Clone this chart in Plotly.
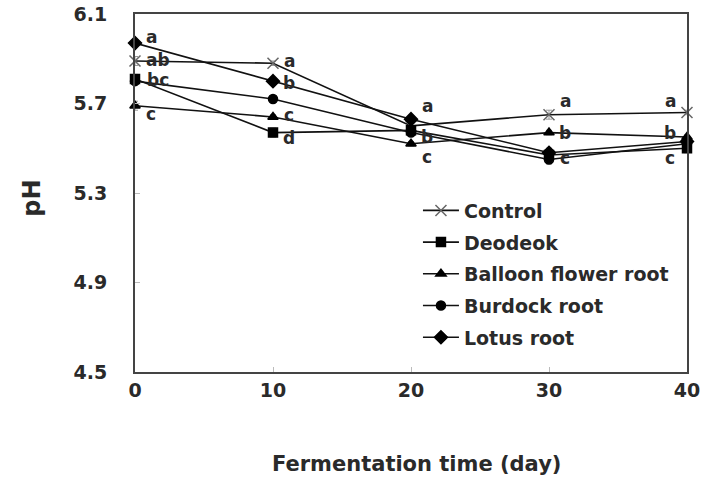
import plotly.graph_objects as go

days = [0, 10, 20, 30, 40]
series_names = ["Control", "Deodeok", "Balloon flower root", "Burdock root", "Lotus root"]
control = [5.89, 5.88, 5.60, 5.65, 5.66]
deodeok = [5.81, 5.57, 5.58, 5.47, 5.50]
balloon = [5.69, 5.64, 5.52, 5.57, 5.55]
burdock = [5.80, 5.72, 5.57, 5.45, 5.52]
lotus = [5.97, 5.80, 5.63, 5.48, 5.53]
control_err = [0.02, 0.01, 0.01, 0.02, 0.01]
deodeok_err = [0.02, 0.02, 0.01, 0.03, 0.02]
balloon_err = [0.02, 0.01, 0.01, 0.01, 0.01]
burdock_err = [0.01, 0.01, 0.01, 0.02, 0.01]
lotus_err = [0.01, 0.01, 0.01, 0.01, 0.01]

# significance letters: (day, pH position, letter, pixel shift)
letters = [
    (0, 5.995, "a", 16), (0, 5.893, "ab", 23), (0, 5.805, "bc", 23), (0, 5.655, "c", 16),
    (10, 5.89, "a", 16), (10, 5.79, "b", 16), (10, 5.65, "c", 16), (10, 5.545, "d", 16),
    (20, 5.69, "a", 16), (20, 5.55, "b", 16), (20, 5.46, "c", 16),
    (30, 5.71, "a", 16), (30, 5.57, "b", 16), (30, 5.456, "c", 16),
    (40, 5.71, "a", -17), (40, 5.57, "b", -17), (40, 5.456, "c", -17),
]

values = [control, deodeok, balloon, burdock, lotus]
errors = [control_err, deodeok_err, balloon_err, burdock_err, lotus_err]
symbols = ["x-thin-open", "square", "triangle-up", "circle", "diamond"]
sizes = [11, 9, 9, 9, 10]
mcolors = ["#666666", "black", "black", "black", "black"]

FONT = "DejaVu Sans"
TXT = "#2a2a2a"

fig = go.Figure()
for i, (name, vals, err) in enumerate(zip(series_names, values, errors)):
    fig.add_trace(go.Scatter(
        x=days, y=vals, name=name, mode="lines+markers",
        line=dict(color="#111111", width=1.6),
        marker=dict(symbol=symbols[i], size=sizes[i], color=mcolors[i],
                    line=dict(color=mcolors[i], width=1.5)),
        error_y=dict(type="data", array=err, visible=True, color="#999999",
                     thickness=1, width=3),
        cliponaxis=False, legendgroup=f"g{i}",
    ))

for d, yv, t, sh in letters:
    fig.add_annotation(x=d, y=yv, text=t, showarrow=False, xshift=sh,
                       font=dict(family=FONT, size=17, color=TXT, weight="bold"))

fig.add_annotation(xref="paper", yref="paper", x=-0.187, y=0.486, text="pH", textangle=-90,
                   xanchor="center", yanchor="middle",
                   showarrow=False, font=dict(family=FONT, size=24, color=TXT, weight="bold"))
fig.add_annotation(xref="paper", yref="paper", x=0.51, y=-0.258, yanchor="middle", xanchor="center",
                   text="Fermentation time (day)", showarrow=False,
                   font=dict(family=FONT, size=21, color=TXT, weight="bold"))

axis_font = dict(family=FONT, size=19, color=TXT, weight="bold")
fig.update_xaxes(range=[0, 40], tickvals=days, ticks="inside", ticklen=5, tickcolor="#bbbbbb",
                 showline=True, linecolor="#444444", linewidth=2, mirror=True, automargin=False,
                 showgrid=False, zeroline=False, tickfont=axis_font)
fig.update_yaxes(range=[4.5, 6.1], tickvals=[4.5, 4.9, 5.3, 5.7, 6.1], ticktext=["4.5", "4.9", "5.3", "5.7", "6.1"],
                 ticks="inside", ticklen=5, tickcolor="#bbbbbb", automargin=False,
                 showline=True, linecolor="#444444", linewidth=2, mirror=True,
                 showgrid=False, zeroline=False, tickfont=axis_font, ticklabelstandoff=22)

fig.update_layout(
    width=703, height=482,
    margin=dict(l=134.5, r=15.5, t=13.5, b=109.5),
    paper_bgcolor="white", plot_bgcolor="white",
    legend=dict(x=0.5126, y=0.504, xanchor="left", yanchor="top", bgcolor="rgba(0,0,0,0)",
                font=dict(family=FONT, size=19, color=TXT, weight="bold"),
                tracegroupgap=4, itemwidth=36),
    showlegend=True,
)

fig.write_html("out.html")
